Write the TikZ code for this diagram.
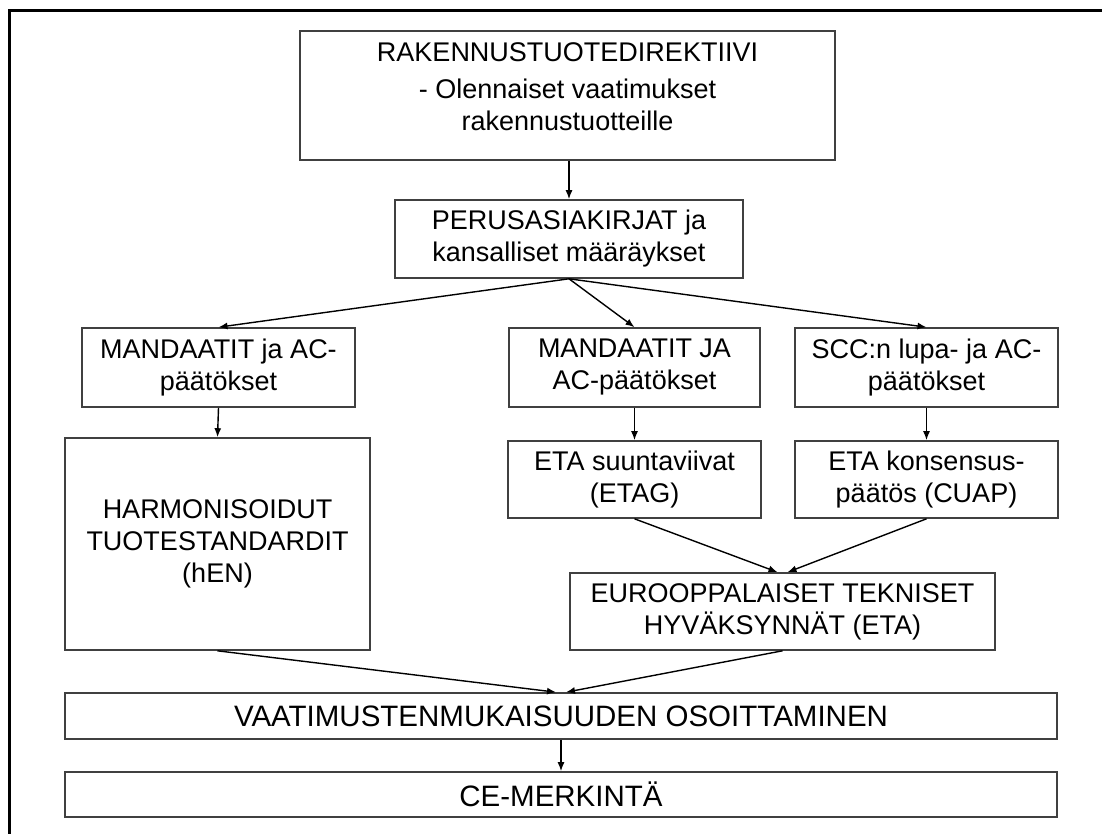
\documentclass[tikz,border=0pt]{standalone}
\usepackage{fontspec}
\setmainfont{Liberation Sans}
\usetikzlibrary{arrows.meta}

\begin{document}
\begin{tikzpicture}[x=1pt, y=-1pt,
  box/.style={draw=black!75, line width=1.6pt, align=center, inner sep=0pt,
    font=\fontsize{27}{32}\selectfont},
  widebox/.style={box, minimum width=992pt, font=\fontsize{29.5}{34}\selectfont},
  link/.style={line width=1.4pt, -{Latex[length=9pt,width=7pt]}}]
\useasboundingbox (0,0) rectangle (1102,834);
% Frame
\draw[line width=3pt] (9.5,834) -- (9.5,11) -- (1102,11);

% Top of the chain
\node[box, minimum width=535pt, minimum height=129pt, text depth=17pt] (dir) at (567.5,95.5) {RAKENNUSTUOTEDIREKTIIVI\\[5pt]- Olennaiset vaatimukset\\rakennustuotteille};
\node[box, minimum width=348pt, minimum height=78pt] (perusa) at (569,239) {PERUSASIAKIRJAT ja\\kansalliset määräykset};

% Three branches
\node[box, minimum width=273pt, minimum height=79pt] (mand1) at (218.5,367.5) {MANDAATIT ja AC-\\päätökset};
\node[box, minimum width=251pt, minimum height=79pt] (mand2) at (634.5,367.5) {MANDAATIT JA\\AC-päätökset};
\node[box, minimum width=263pt, minimum height=79pt] (scc) at (926.5,367.5) {SCC:n lupa- ja AC-\\päätökset};
\node[box, minimum width=305pt, minimum height=212pt] (harm) at (217.5,544) {HARMONISOIDUT\\TUOTESTANDARDIT\\(hEN)};
\node[box, minimum width=253pt, minimum height=77pt] (etag) at (634.5,479.5) {ETA suuntaviivat\\(ETAG)};
\node[box, minimum width=263pt, minimum height=77pt] (cuap) at (926.5,479.5) {ETA konsensus-\\päätös (CUAP)};
\node[box, minimum width=425pt, minimum height=77pt] (eta) at (782.5,611.5) {EUROOPPALAISET TEKNISET\\HYVÄKSYNNÄT (ETA)};

% Bottom
\node[widebox, minimum height=46pt] (vaat) at (561,716) {VAATIMUSTENMUKAISUUDEN OSOITTAMINEN};
\node[widebox, minimum height=45pt] (ce) at (561,794.5) {CE-MERKINTÄ};

% Arrows
\draw[link] (perusa.north |- dir.south) -- (perusa.north);
\foreach \n in {mand1, mand2, scc}
  \draw[link] (perusa.south) -- (\n.north);
\draw[link] (mand1.south) -- (harm.north);
\draw[link] (mand2.south) -- (etag.north);
\draw[link] (scc.south) -- (cuap.north);
\draw[link] (etag.south) -- ([xshift=-5pt]eta.north);
\draw[link] (cuap.south) -- ([xshift=5pt]eta.north);
\draw[link] (harm.south) -- ([xshift=-5pt]vaat.north);
\draw[link] (eta.south) -- ([xshift=5pt]vaat.north);
\draw[link] (vaat.south) -- (ce.north);
\end{tikzpicture}
\end{document}
